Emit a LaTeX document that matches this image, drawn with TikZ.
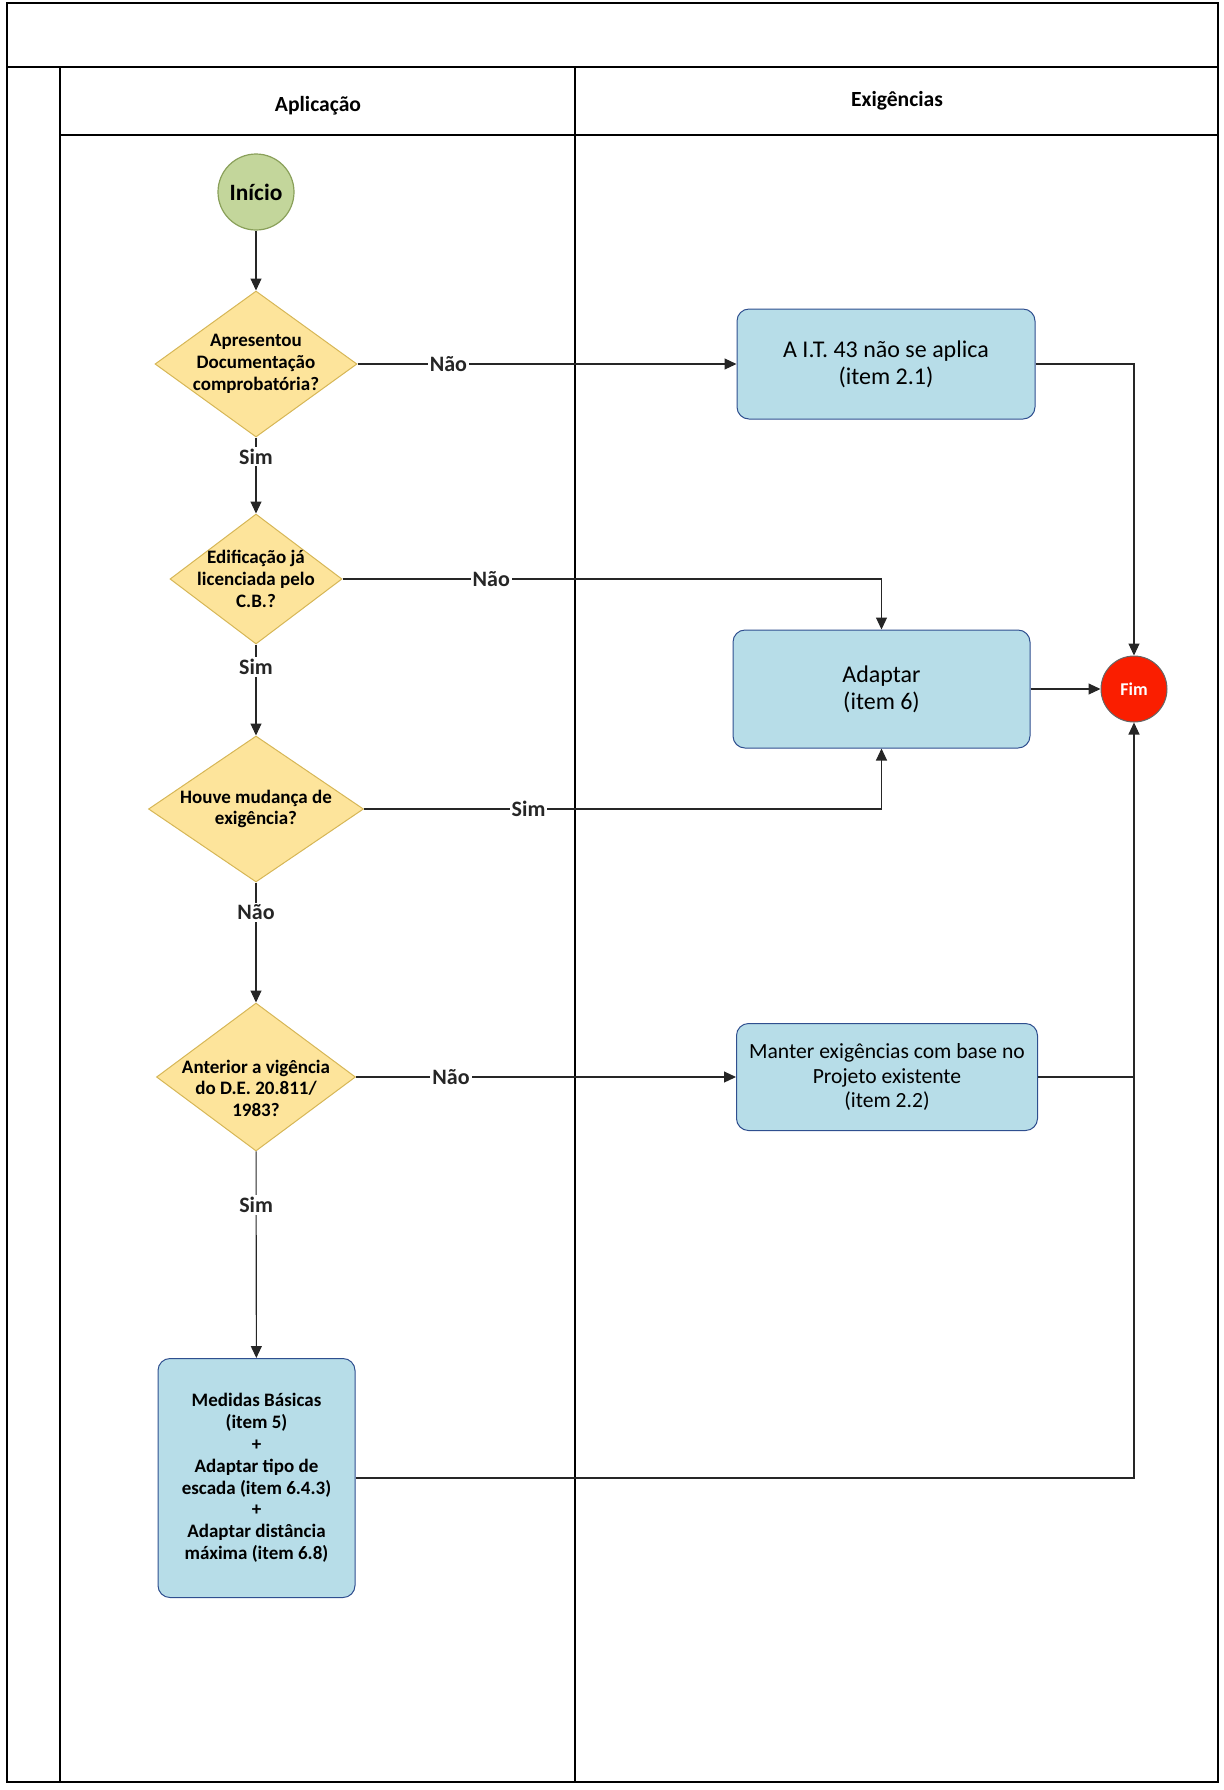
\documentclass[tikz,border=0pt]{standalone}
\usepackage{fontspec}
\setmainfont{Carlito}
\usetikzlibrary{shapes.geometric,arrows.meta}

\definecolor{iniciofill}{HTML}{C3D69B}
\definecolor{iniciodraw}{HTML}{8AA05A}
\definecolor{decfill}{HTML}{FDE49B}
\definecolor{decdraw}{HTML}{D6B656}
\definecolor{boxfill}{HTML}{B7DDE8}
\definecolor{boxdraw}{HTML}{2F4F8F}
\definecolor{fimfill}{HTML}{FA1E00}

\begin{document}
\begin{tikzpicture}[x=0.5pt,y=-0.5pt,
  decision/.style={diamond,draw=decdraw,fill=decfill,line width=0.5pt,inner sep=-12pt,
    align=center,font=\fontsize{9.5}{10.9}\selectfont\bfseries},
  process/.style={rectangle,rounded corners=6pt,draw=boxdraw,fill=boxfill,line width=0.5pt,
    align=center,font=\fontsize{12}{13.5}\selectfont},
  lbl/.style={fill=white,inner sep=1pt,font=\fontsize{11}{13}\selectfont\bfseries},
  arr/.style={-{Triangle[length=6pt,width=5.5pt]},line width=0.55pt,black!85},
  lin/.style={line width=0.55pt,black!85}]
\useasboundingbox (0,0) rectangle (1224,1790);
% lanes
\draw[line width=0.6pt] (7,3) rectangle (1218,1782);
\draw[line width=1.2pt] (7,1782) -- (1218,1782);
\draw[line width=0.6pt] (7,67) -- (1218,67);
\draw[line width=0.6pt] (60,135) -- (1218,135);
\foreach \x in {60,575} {
\draw[line width=0.6pt] (\x,67) -- (\x,1782);
}
\node[font=\fontsize{10.8}{12}\selectfont\bfseries] (laneA) at (318,106) {Aplicação};
\node[font=\fontsize{10.8}{12}\selectfont\bfseries] (laneB) at (897,101) {Exigências};

% nodes
\node[circle,draw=iniciodraw,fill=iniciofill,line width=0.6pt,minimum size=38pt,inner sep=0pt,
  font=\fontsize{11.7}{14}\selectfont\bfseries] (inicio) at (256,192) {Início};
\node[decision,minimum width=101pt,minimum height=73pt] (d1) at (256,364)
  {Apresentou\\Documentação\\comprobatória?};
\node[decision,minimum width=86pt,minimum height=65pt] (d2) at (256,579)
  {Edificação já\\licenciada pelo\\C.B.?};
\node[decision,minimum width=107.5pt,minimum height=73pt] (d3) at (256,809)
  {Houve mudança de\\exigência?};
\node[decision,minimum width=99.5pt,minimum height=74pt] (d4) at (256,1077)
  {\rule{0pt}{18pt}Anterior a vigência\\do D.E. 20.811/\\1983?};
\node[process,minimum width=98.5pt,minimum height=119.5pt,
  font=\fontsize{9.5}{10.9}\selectfont\bfseries] (medidas) at (256.5,1478)
  {Medidas Básicas\\(item 5)\\+\\Adaptar tipo de\\escada (item 6.4.3)\\+\\Adaptar distância\\máxima (item 6.8)};
\node[process,minimum width=149pt,minimum height=55pt] (naoaplica) at (886,364)
  {A I.T. 43 não se aplica\\(item 2.1)};
\node[process,minimum width=148.5pt,minimum height=59pt] (adaptar) at (881.5,689)
  {Adaptar\\(item 6)};
\node[process,minimum width=150.5pt,minimum height=53.5pt,
  font=\fontsize{10.8}{12.3}\selectfont] (manter) at (887,1077)
  {Manter exigências com base no\\Projeto existente\\(item 2.2)};
\node[circle,draw=black!60,fill=fimfill,line width=0.5pt,minimum size=33pt,inner sep=0pt,
  text=white,font=\fontsize{9}{11}\selectfont\bfseries] (fim) at (1134,689) {Fim};

% connectors
\draw[arr] (inicio) -- (d1);
\draw[arr] (d1) -- node[lbl,pos=0.25] {Sim} (d2);
\draw[arr] (d2) -- node[lbl,pos=0.25] {Sim} (d3);
\draw[arr] (d3) -- node[lbl,pos=0.25] {Não} (d4);
\draw[arr] (d4) -- node[lbl,pos=0.26] {Sim} (medidas);
\draw[arr] (d1.east) -- node[lbl,pos=0.24] {Não} (naoaplica.west);
\draw[arr] (d2.east) -| node[lbl,pos=0.138] {Não} (adaptar.north);
\draw[arr] (d3.east) -| node[lbl,pos=0.159] {Sim} (adaptar.south);
\draw[arr] (d4.east) -- node[lbl,pos=0.25] {Não} (manter.west);
\draw[arr] (naoaplica.east) -| (fim.north);
\draw[arr] (adaptar.east) -- (fim.west);
\draw[arr] (medidas.east) -| (fim.south);
\draw[lin] (manter.east) -- (manter.east -| fim.south);
\end{tikzpicture}
\end{document}
